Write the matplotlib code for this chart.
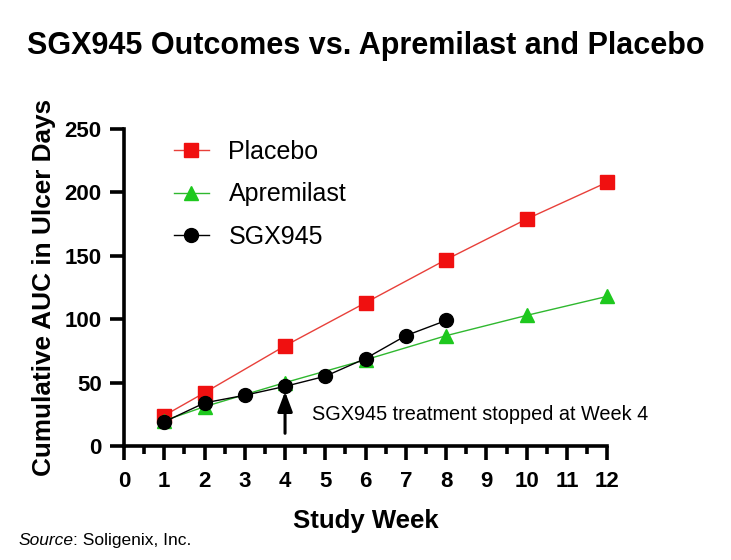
import matplotlib.pyplot as plt
from matplotlib.ticker import MultipleLocator

plt.rcParams['font.family'] = ['Liberation Sans', 'DejaVu Sans']

placebo_weeks = [1, 2, 4, 6, 8, 10, 12]
placebo_auc = [24, 42, 79, 113, 147, 179, 208]

apremilast_weeks = [1, 2, 4, 6, 8, 10, 12]
apremilast_auc = [20, 31, 50, 68, 87, 103, 118]

sgx_weeks = [1, 2, 3, 4, 5, 6, 7, 8]
sgx_auc = [19, 34, 40, 47, 55, 69, 87, 99]

fig = plt.figure(figsize=(7.31, 5.6), dpi=100)
ax = fig.add_axes([0.1696, 0.2036, 0.661, 0.566])

ax.plot(placebo_weeks, placebo_auc, color='#e8403a', lw=1.0, marker='s',
        ms=10, mfc='#f01010', mec='#f01010', label='Placebo', zorder=3)
ax.plot(apremilast_weeks, apremilast_auc, color='#2fb82f', lw=1.0, marker='^',
        ms=10, mfc='#1ec81e', mec='#1ec81e', label='Apremilast', zorder=3)
ax.plot(sgx_weeks, sgx_auc, color='black', lw=1.0, marker='o',
        ms=10, mfc='black', mec='black', label='SGX945', zorder=4)

# arrow marking end of SGX945 treatment
ax.annotate('', xy=(4, 43), xytext=(4, 10),
            arrowprops=dict(arrowstyle='-|>,head_width=0.45,head_length=1.2',
                            color='black', lw=2.2, shrinkA=0, shrinkB=0))
ax.text(4.68, 25, 'SGX945 treatment stopped at Week 4', fontsize=14.3,
        va='center', ha='left')

ax.set_xlim(0, 12)
ax.set_ylim(0, 250)
ax.xaxis.set_major_locator(MultipleLocator(1))
ax.xaxis.set_minor_locator(MultipleLocator(0.5))
ax.yaxis.set_major_locator(MultipleLocator(50))

for s in ['top', 'right']:
    ax.spines[s].set_visible(False)
for s in ['left', 'bottom']:
    ax.spines[s].set_linewidth(2.6)
ax.tick_params(which='major', length=10, width=2.6, labelsize=16, pad=6)
ax.tick_params(axis='x', which='major', pad=8)
ax.tick_params(which='minor', length=6, width=2.6)
for lab in ax.get_xticklabels() + ax.get_yticklabels():
    lab.set_fontweight('bold')
for line in ax.lines:
    line.set_clip_on(False)

ax.set_xlabel('Study Week', fontsize=18.5, fontweight='bold', labelpad=12)
ax.set_ylabel('Cumulative AUC in Ulcer Days', fontsize=18.8, fontweight='bold',
              labelpad=6)

ax.legend(loc='upper left', bbox_to_anchor=(0.1035, 0.966), frameon=False,
          fontsize=18, handlelength=1.4, labelspacing=0.74, handletextpad=0.78,
          borderaxespad=0, borderpad=0)

fig.text(0.5, 0.918, 'SGX945 Outcomes vs. Apremilast and Placebo', ha='center',
         va='center', fontsize=22, fontweight='bold')

src = fig.text(0.025, 0.034, 'Source', fontsize=12.5, style='italic', va='center')
renderer = fig.canvas.get_renderer()
bb = src.get_window_extent(renderer=renderer)
fig.text(bb.x1 / fig.bbox.width, 0.034, ': Soligenix, Inc.', fontsize=12.5,
         va='center')

fig.savefig('out.png', dpi=100)
